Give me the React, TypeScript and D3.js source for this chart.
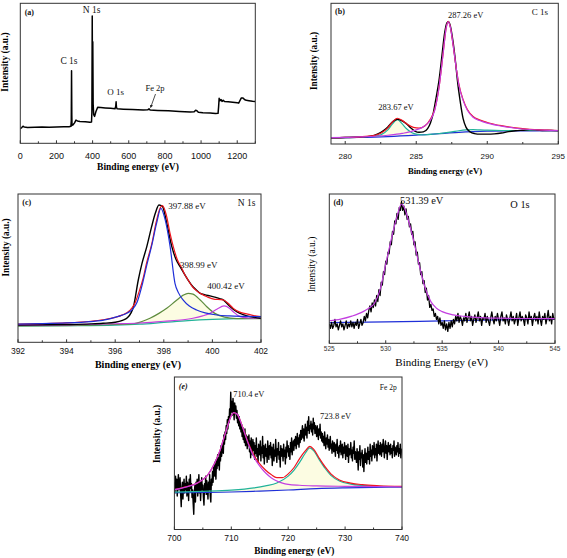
import React from "react";
import * as d3 from "d3";

type Pt = [number, number];

// ---------- (a) survey ----------
const surveyTicks = [0, 200, 400, 600, 800, 1000, 1200];
const surveyMinor = [100, 300, 500, 700, 900, 1100, 1300];
const surveyA: Pt[] = [
  [0, 10.5], [8, 11.2], [15, 12.2], [22, 11.6], [40, 11.3], [80, 11.5], [120, 11.6], [160, 11.5],
  [200, 11.7], [240, 11.8], [270, 11.9], [280, 12.1], [282, 16], [283.5, 51.9], [285, 20], [286, 12.8],
  [292, 13.2], [300, 14.6], [308, 16.6], [316, 16], [330, 15.6], [360, 15.4], [385, 15.0], [394, 15.2],
  [396, 22], [398, 90.9], [399.5, 30], [401, 72.6], [403, 28], [406, 20.5], [411, 19.2], [418, 22.5],
  [428, 25.8], [445, 25.6], [470, 25.3], [500, 25], [524, 24.7], [528, 26.5], [530, 29.7], [532, 25.6],
  [536, 24.6], [570, 24.4], [620, 24.2], [680, 23.8], [705, 23.9], [712, 24.6], [718, 23.8], [760, 23.5],
  [820, 23.2], [880, 22.8], [940, 22.4], [962, 22.5], [970, 23.6], [977, 23.3], [985, 22.2], [1010, 21.8],
  [1050, 21.6], [1080, 21.3], [1094, 21.4], [1097, 26], [1100, 32.1], [1104, 30.4], [1110, 31.3],
  [1116, 29.9], [1122, 30.8], [1130, 29.8], [1150, 29.6], [1175, 29.3], [1200, 28.9], [1208, 28.7],
  [1214, 30.2], [1222, 32.3], [1232, 32.4], [1240, 31.3], [1250, 30.7], [1265, 30.4], [1285, 30], [1300, 29.8],
];

// ---------- (b) C 1s ----------
const c1sTicks = [280, 285, 290, 295];
const c1sMinor = [282.5, 287.5, 292.5];
const c1sData: Pt[] = [
  [279, 4.4], [280, 4.6], [281, 5.0], [281.8, 5.6], [282.3, 7.2], [282.7, 9.5], [283.0, 12], [283.3, 15.5],
  [283.67, 17.6], [284.0, 16.5], [284.3, 14.5], [284.6, 11.5], [284.9, 9.2], [285.2, 8.3], [285.5, 8.6],
  [285.8, 11], [286.0, 15], [286.2, 22], [286.4, 33], [286.6, 45], [286.8, 62], [287.0, 79], [287.15, 86],
  [287.26, 86.9], [287.4, 84], [287.6, 72], [287.8, 55], [287.9, 45], [288.1, 30], [288.3, 18], [288.5, 12],
  [288.8, 8.5], [289.1, 7.4], [289.5, 7.0], [290, 7.0], [290.5, 7.2], [291, 7.8], [291.5, 8.8], [292, 9.4],
  [292.5, 9.8], [293, 10.2], [293.5, 9.9], [294, 9.5], [294.5, 9.6], [295, 9.3],
];
const c1sSum: Pt[] = [
  [279, 4.5], [280, 4.7], [281, 5.1], [282, 6.0], [282.5, 7.6], [283, 11.5], [283.3, 15.3], [283.67, 18.3],
  [284, 16.8], [284.4, 13.8], [284.8, 11.8], [285.2, 11.3], [285.6, 12.8], [286, 17.8], [286.3, 24.5],
  [286.6, 40], [286.9, 65], [287.1, 82], [287.26, 87.1], [287.4, 83], [287.6, 70], [287.8, 55], [288.0, 42.5],
  [288.3, 31.5], [288.6, 24.5], [289, 19.5], [289.5, 17], [290, 15.3], [291, 13], [292, 11.5], [293, 10.5],
  [294, 10], [295, 9.6],
];
const c1sPeak287: Pt[] = [
  [279, 4.5], [281, 5.0], [283, 6.2], [284, 7.5], [285, 10.0], [285.5, 12.3], [286, 17], [286.3, 24],
  [286.6, 40], [286.9, 65], [287.1, 82], [287.26, 86.9], [287.4, 83], [287.6, 70], [287.8, 55], [288.0, 42],
  [288.3, 31], [288.6, 24], [289, 19], [289.5, 16.5], [290, 14.8], [291, 12.7], [292, 11.2], [293, 10.3],
  [294, 9.8], [295, 9.5],
];
const c1sPeak283: Pt[] = [
  [279, 4.4], [281, 5.0], [282, 5.5], [282.5, 6.5], [283, 10], [283.3, 14], [283.67, 17.3], [284, 14.5],
  [284.3, 11], [284.7, 8], [285.1, 6.8], [285.5, 6.4],
];
const c1sBroad: Pt[] = [
  [285.5, 6.4], [286, 6.8], [286.5, 7.3], [287, 7.9], [287.5, 8.6], [288, 9.4], [288.5, 10], [289, 10.2],
  [289.5, 10], [290, 9.8], [291, 9.6], [292, 9.6], [293, 9.6], [294, 9.6], [295, 9.6],
];
const c1sBase: Pt[] = [
  [279, 4.4], [281, 4.7], [283, 5.3], [285, 6.3], [286, 6.9], [287, 7.6], [288, 8.3], [289, 8.8],
  [290, 9.1], [292, 9.3], [295, 9.4],
];

// ---------- (c) N 1s ----------
const n1sTicks = [392, 394, 396, 398, 400, 402];
const n1sMinor = [393, 395, 397, 399, 401];
const n1sData: Pt[] = [
  [392, 11.7], [393, 11.8], [394, 12.0], [395, 12.4], [395.5, 12.8], [396, 13.5], [396.3, 14.8], [396.5, 16.5],
  [396.75, 24], [396.95, 42], [397.1, 53], [397.3, 64.5], [397.5, 78], [397.65, 87], [397.8, 92.6],
  [397.95, 91.5], [398.1, 82], [398.33, 64.5], [398.5, 56], [398.67, 51], [398.85, 46], [399.0, 42],
  [399.2, 37.5], [399.34, 35.3], [399.5, 33], [399.7, 32], [399.9, 31.3], [400.1, 30.5], [400.3, 29.5],
  [400.46, 28.5], [400.7, 24.5], [401.0, 20.6], [401.3, 18.5], [401.55, 17.3], [402, 16.2],
];
const n1sSum: Pt[] = [
  [392, 12.3], [393, 12.6], [394, 13.1], [395, 14.2], [395.5, 15.2], [396, 16.8], [396.3, 18.5], [396.6, 21.5],
  [396.8, 26], [397.0, 35], [397.13, 42], [397.3, 54], [397.5, 66], [397.7, 82], [397.85, 90.5], [397.94, 92.1],
  [398.1, 86], [398.25, 74], [398.39, 64.5], [398.55, 56], [398.74, 50], [398.85, 46], [399.0, 42],
  [399.2, 37], [399.5, 33], [399.8, 30.5], [400.1, 29], [400.35, 28.8], [400.5, 28.2], [400.7, 25.5],
  [400.86, 22.9], [401.1, 20.5], [401.41, 19.2], [401.7, 18], [402, 17.3],
];
const n1sPeak397: Pt[] = [
  [392, 12.3], [393, 12.6], [394, 13.1], [395, 14.0], [395.4, 14.6], [395.8, 16.0], [396.2, 17.8],
  [396.5, 19.8], [396.7, 22], [396.9, 27], [397.13, 40], [397.3, 52], [397.5, 65], [397.7, 80], [397.88, 90.3],
  [398.05, 83], [398.26, 64.5], [398.46, 39.8], [398.6, 33.5], [398.8, 28.5], [399.05, 24.5], [399.35, 21.8],
  [399.7, 19.8], [400.18, 18.4], [400.7, 17.8], [401.3, 17.5], [402, 17.3],
];
const n1sPeak398: Pt[] = [
  [392, 11.0], [394, 11.2], [395, 11.5], [396, 12.0], [396.75, 12.5], [397.1, 14.0], [397.43, 16.2],
  [397.8, 19.5], [398.12, 22.9], [398.5, 28], [398.8, 31.8], [399.0, 33], [399.2, 32.5], [399.5, 28.5],
  [399.77, 24], [400.1, 19.5], [400.5, 17], [401, 16], [401.5, 15.9], [402, 16.0],
];
const n1sPeak400: Pt[] = [
  [392, 11.4], [394, 11.8], [396, 12.5], [397, 13.0], [398, 14.2], [398.8, 15.2], [399.2, 16.2],
  [399.6, 17.8], [399.9, 19.5], [400.2, 22.5], [400.48, 24.5], [400.7, 23], [400.86, 20.6], [401.14, 17.3],
  [401.5, 16.4], [402, 16.2],
];
const n1sBase: Pt[] = [
  [392, 11.0], [394, 11.2], [396, 11.6], [397, 12.2], [398, 13.4], [399, 14.6], [400, 15.4], [401, 15.9], [402, 16.2],
];

// ---------- (d) O 1s ----------
const o1sTicks = [525, 530, 535, 540, 545];
const o1sMinor = [527.5, 532.5, 537.5, 542.5];
const o1sStart = 525;
const o1sStep = 0.1;
const o1sCounts = [
  13, 10, 14, 10, 12, 16, 11, 13, 9, 12,
  15, 11, 13, 9, 12, 15, 10, 13, 11, 15,
  11, 14, 10, 14, 12, 16, 10, 13, 16, 12,
  14, 18, 15, 20, 17, 22, 25, 21, 27, 24,
  29, 25, 32, 28, 36, 32, 41, 39, 48, 46,
  55, 53, 61, 60, 68, 66, 75, 73, 82, 80,
  87, 83, 91, 89, 95, 89, 92, 86, 90, 83,
  85, 78, 80, 73, 75, 66, 68, 59, 61, 53,
  54, 46, 48, 40, 42, 34, 37, 29, 32, 24,
  26, 22, 23, 18, 20, 16, 18, 13, 17, 12,
  14, 10, 15, 9, 13, 8, 14, 10, 15, 11,
  16, 13, 18, 15, 20, 14, 18, 16, 12, 17,
  15, 20, 14, 17, 21, 15, 18, 12, 16, 19,
  14, 17, 21, 15, 18, 12, 17, 16, 20, 14,
  18, 15, 12, 17, 21, 16, 13, 18, 15, 20,
  16, 12, 18, 21, 15, 17, 13, 19, 16, 12,
  17, 21, 15, 18, 13, 16, 20, 12, 17, 21,
  15, 18, 16, 12, 19, 17, 13, 21, 16, 18,
  12, 17, 20, 15, 18, 13, 21, 16, 12, 18,
  16, 20, 13, 17, 22, 15, 18, 13, 20, 16,
  17,
];
const o1sFit: Pt[] = [
  [525, 15.1], [526, 16.2], [527, 18.2], [528, 21.2], [528.5, 23.5], [529, 26.8], [529.5, 36], [530, 53],
  [530.5, 70], [531, 85], [531.39, 93.3], [531.7, 90], [532, 82.6], [532.5, 68], [533, 51.3], [533.5, 37],
  [534, 27.9], [534.5, 23.5], [535, 21.2], [536, 19], [537, 18], [538, 17.4], [540, 16.8], [542, 16.6], [545, 16.5],
];
const o1sBase: Pt[] = [[525, 13.8], [530, 14.3], [535, 15.0], [540, 15.7], [545, 16.1]];

// ---------- (e) Fe 2p ----------
const fe2pTicks = [700, 710, 720, 730, 740];
const fe2pMinor = [705, 715, 725, 735];
const fe2pStart = 700;
const fe2pStep = 0.1;
const fe2pCounts = [
  31, 24, 35, 27, 33, 22, 30, 36, 26, 29,
  34, 23, 15, 27, 31, 20, 28, 33, 24, 30,
  26, 35, 22, 31, 28, 19, 33, 25, 36, 27,
  30, 21, 26, 17, 10, 24, 29, 18, 31, 25,
  33, 22, 28, 36, 24, 31, 19, 27, 34, 26,
  29, 21, 16, 30, 25, 35, 23, 32, 27, 20,
  31, 26, 36, 22, 18, 33, 29, 38, 31, 41,
  35, 44, 38, 33, 46, 40, 49, 42, 47, 39,
  51, 45, 55, 48, 53, 58, 50, 62, 56, 64,
  59, 68, 63, 72, 66, 74, 70, 79, 73, 90,
  77, 84, 75, 86, 79, 72, 83, 76, 81, 73,
  78, 70, 75, 68, 74, 66, 71, 64, 69, 61,
  67, 59, 64, 57, 66, 55, 62, 58, 53, 61,
  55, 62, 51, 58, 47, 60, 54, 49, 59, 52,
  57, 46, 55, 50, 60, 48, 53, 44, 56, 51,
  49, 58, 45, 54, 50, 61, 47, 55, 43, 52,
  56, 48, 53, 44, 58, 50, 46, 55, 49, 57,
  47, 54, 42, 51, 56, 45, 52, 48, 59, 50,
  44, 53, 49, 57, 46, 51, 41, 55, 48, 53,
  50, 45, 56, 48, 52, 43, 54, 47, 58, 51,
  55, 48, 53, 46, 57, 51, 60, 49, 54, 58,
  52, 59, 55, 61, 53, 57, 63, 56, 60, 54,
  62, 57, 65, 59, 63, 68, 60, 66, 58, 64,
  69, 62, 67, 60, 71, 65, 74, 63, 68, 66,
  71, 64, 69, 62, 73, 66, 70, 63, 68, 65,
  61, 68, 64, 59, 66, 62, 69, 60, 64, 58,
  63, 57, 61, 55, 64, 58, 53, 60, 56, 62,
  54, 59, 52, 57, 61, 53, 56, 50, 58, 55,
  51, 57, 53, 48, 56, 52, 59, 50, 54, 47,
  55, 51, 58, 49, 53, 56, 47, 54, 50, 57,
  52, 46, 55, 50, 48, 56, 44, 53, 49, 51,
  57, 47, 52, 45, 54, 50, 58, 46, 51, 49,
  44, 53, 48, 39, 51, 46, 55, 42, 50, 47,
  52, 41, 49, 38, 47, 53, 44, 50, 43, 48,
  54, 46, 51, 43, 56, 48, 52, 45, 55, 49,
  51, 57, 47, 53, 49, 56, 45, 52, 58, 50,
  55, 49, 57, 52, 48, 56, 51, 59, 53, 47,
  54, 58, 50, 55, 46, 53, 57, 51, 55, 49,
  56, 50, 53, 47, 55, 52, 58, 48, 54, 51,
  49, 55, 51, 57, 48, 53, 50, 56, 47, 52,
  53,
];
const fe2pSum: Pt[] = [
  [700, 26.2], [702, 28], [704, 30.4], [706, 36.5], [707, 43], [708, 51.7], [709, 63.7], [710, 74.6],
  [710.4, 76.7], [711, 75.7], [712, 67], [713, 56.5], [714, 48.5], [715, 43], [716, 39], [717, 36], [718, 34],
  [719, 34], [720, 36.5], [721, 40.5], [722, 46.5], [723, 51.5], [723.8, 54.5], [724.5, 52.5], [725.5, 46.5],
  [726.5, 41], [727.5, 36.5], [729, 32.5], [731, 30.4], [733, 29.4], [736, 28.7], [740, 28.3],
];
const fe2pPeak710: Pt[] = [
  [700, 26.1], [702, 27.8], [704, 30.4], [706, 36.5], [707, 43], [708, 51.7], [709, 63.7], [710, 74.6],
  [710.4, 76.7], [711, 75.7], [712, 66.9], [713, 56.1], [714, 47.4], [715, 41.5], [716, 37.2], [717, 34],
  [718, 31.8], [719, 30.4], [720, 29.6], [722, 29], [725, 28.6], [730, 28.3], [740, 28],
];
const fe2pPeak723: Pt[] = [
  [700, 24.5], [705, 25.0], [710, 25.8], [714, 27.3], [716, 28.6], [718, 30.5], [720, 35], [721, 38.8],
  [722, 44], [723, 50], [723.8, 53.5], [724.5, 51.5], [725.5, 45.5], [726.5, 40], [727.5, 35.5], [729, 31.8],
  [731, 29.8], [733, 28.9], [736, 28.3], [740, 28.1],
];
const fe2pBase: Pt[] = [[700, 24.1], [710, 24.6], [715, 25.2], [720, 25.9], [725, 26.8], [730, 27.3], [740, 27.8]];

const expand = (start: number, step: number, vals: number[]): Pt[] =>
  vals.map((v, i) => [start + i * step, v] as Pt);

const SERIF = "'Liberation Serif','Times New Roman',serif";
const SANS = "'Liberation Sans',Arial,sans-serif";

type Series = { data: Pt[]; color: string; width?: number; smooth?: boolean };
type Fill = { top: Pt[]; base: Pt[]; color: string };
type Label = { text: string; x: number; y: number; size: number; bold?: boolean; anchor?: string; italic?: boolean };

type PanelProps = {
  id: string;
  left: number; right: number; top: number; bottom: number;
  xDomain: [number, number];
  ticks: number[]; minor: number[];
  tickSize: number; tickY: number; tickColor?: string;
  xTitle: string; xTitleX: number; xTitleY: number; xTitleSize: number; xTitleBold: boolean;
  yTitleX: number; yTitleY: number; yTitleSize: number; yTitleBold: boolean;
  series: Series[]; fills?: Fill[]; labels: Label[];
  arrow?: { from: Pt; to: Pt };
};

function Panel(p: PanelProps) {
  const x = d3.scaleLinear().domain(p.xDomain).range([p.left, p.right]);
  const y = d3.scaleLinear().domain([0, 100]).range([p.bottom, p.top]);
  const smoothLine = d3.line<Pt>().x(d => x(d[0])).y(d => y(d[1])).curve(d3.curveMonotoneX);
  const rawLine = d3.line<Pt>().x(d => x(d[0])).y(d => y(d[1]));
  const clipId = `clip-${p.id}`;
  return (
    <g>
      <defs>
        <clipPath id={clipId}>
          <rect x={p.left} y={p.top} width={p.right - p.left} height={p.bottom - p.top} />
        </clipPath>
      </defs>
      <g clipPath={`url(#${clipId})`}>
        {(p.fills || []).map((f, i) => {
          const topPath = smoothLine(f.top) || "";
          const basePts = [...f.base].reverse();
          const basePath = rawLine(basePts) || "";
          return <path key={i} d={topPath + "L" + basePath.slice(1) + "Z"} fill={f.color} stroke="none" />;
        })}
        {p.series.map((s, i) => (
          <path key={i} d={(s.smooth === false ? rawLine(s.data) : smoothLine(s.data)) || ""}
            fill="none" stroke={s.color} strokeWidth={s.width ?? 1.2} strokeLinejoin="round" />
        ))}
      </g>
      <rect x={p.left} y={p.top} width={p.right - p.left} height={p.bottom - p.top}
        fill="none" stroke="#333" strokeWidth={1} />
      {p.ticks.map(t => (
        <g key={t}>
          <line x1={x(t)} x2={x(t)} y1={p.bottom} y2={p.bottom - 3} stroke="#333" strokeWidth={1} />
          <text x={x(t)} y={p.tickY} fontFamily={SANS} fontSize={p.tickSize} textAnchor="middle"
            dominantBaseline="middle" fill={p.tickColor || "#111"}>{t}</text>
        </g>
      ))}
      {p.minor.map(t => (
        <line key={t} x1={x(t)} x2={x(t)} y1={p.bottom} y2={p.bottom - 2} stroke="#333" strokeWidth={1} />
      ))}
      <text x={p.xTitleX} y={p.xTitleY} fontFamily={SERIF} fontSize={p.xTitleSize}
        fontWeight={p.xTitleBold ? "bold" : "normal"} textAnchor="middle" dominantBaseline="middle">{p.xTitle}</text>
      <text transform={`translate(${p.yTitleX},${p.yTitleY}) rotate(-90)`} fontFamily={SERIF}
        fontSize={p.yTitleSize} fontWeight={p.yTitleBold ? "bold" : "normal"} textAnchor="middle"
        dominantBaseline="middle">Intensity (a.u.)</text>
      {p.labels.map((l, i) => (
        <text key={i} x={l.x} y={l.y} fontFamily={SERIF} fontSize={l.size} fontWeight={l.bold ? "bold" : "normal"}
          fontStyle={l.italic ? "italic" : "normal"} textAnchor={(l.anchor as any) || "middle"}
          dominantBaseline="middle" fill="#111">{l.text}</text>
      ))}
      {p.arrow && (
        <g>
          <line x1={x(p.arrow.from[0])} y1={y(p.arrow.from[1])} x2={x(p.arrow.to[0])} y2={y(p.arrow.to[1])}
            stroke="#222" strokeWidth={0.8} markerEnd="url(#arrowHead)" />
        </g>
      )}
    </g>
  );
}

const BLACK = "#000";
const RED = "#f0141e";
const MAGENTA = "#c33ee0";
const BLUE = "#1f2fd8";
const TEAL = "#22b39a";
const OLIVE = "#5e8c3e";
const PALE = "#fcfce2";

export default function App() {
  return (
    <svg width={567} height={558} viewBox="0 0 567 558"
      style={{ position: "absolute", left: 0, top: 0, background: "#fff" }}>
      <defs>
        <marker id="arrowHead" viewBox="0 0 6 6" refX="5" refY="3" markerWidth="4" markerHeight="4" orient="auto">
          <path d="M0,0 L6,3 L0,6 Z" fill="#222" />
        </marker>
      </defs>
      <rect x={0} y={0} width={567} height={558} fill="#fff" />

      <Panel id="a" left={20.3} right={255.3} top={3.3} bottom={143.3} xDomain={[0, 1300]}
        ticks={surveyTicks} minor={surveyMinor} tickSize={9} tickY={157}
        xTitle="Binding energy (eV)" xTitleX={138} xTitleY={168} xTitleSize={9.5} xTitleBold
        yTitleX={5.5} yTitleY={62} yTitleSize={9.5} yTitleBold
        series={[{ data: surveyA, color: BLACK, width: 1.5, smooth: false }]}
        labels={[
          { text: "(a)", x: 29.3, y: 12.7, size: 8, bold: true },
          { text: "N 1s", x: 91.7, y: 10.7, size: 9.5 },
          { text: "C 1s", x: 69, y: 62.3, size: 9.5 },
          { text: "O 1s", x: 115.7, y: 92.7, size: 9 },
          { text: "Fe 2p", x: 155, y: 89, size: 8.5 },
        ]}
        arrow={{ from: [748, 35.2], to: [721, 25.6] }}
      />

      <Panel id="b" left={331} right={558.3} top={3.3} bottom={144} xDomain={[279, 295]}
        ticks={c1sTicks} minor={c1sMinor} tickSize={8} tickY={156.7}
        xTitle="Binding energy (eV)" xTitleX={445} xTitleY={171.7} xTitleSize={8.6} xTitleBold
        yTitleX={315} yTitleY={61} yTitleSize={9.3} yTitleBold
        fills={[{ top: c1sPeak283, base: c1sBase, color: PALE }]}
        series={[
          { data: c1sBase, color: BLUE },
          { data: c1sBroad, color: TEAL },
          { data: c1sPeak283, color: TEAL },
          { data: c1sData, color: BLACK, width: 1.4 },
          { data: c1sSum, color: RED },
          { data: c1sPeak287, color: MAGENTA },
        ]}
        labels={[
          { text: "(b)", x: 340, y: 11.7, size: 8, bold: true },
          { text: "C 1s", x: 540, y: 12.7, size: 9 },
          { text: "287.26 eV", x: 465.7, y: 16.2, size: 8.5 },
          { text: "283.67 eV", x: 396, y: 108.5, size: 8.5 },
        ]}
      />

      <Panel id="c" left={18} right={261} top={194} bottom={342.3} xDomain={[392, 402]}
        ticks={n1sTicks} minor={n1sMinor} tickSize={8.5} tickY={351.7}
        xTitle="Binding energy (eV)" xTitleX={138} xTitleY={366} xTitleSize={10} xTitleBold
        yTitleX={6.7} yTitleY={247.5} yTitleSize={9.3} yTitleBold
        fills={[{ top: n1sPeak398, base: n1sBase, color: PALE }]}
        series={[
          { data: n1sBase, color: TEAL },
          { data: n1sPeak398, color: OLIVE },
          { data: n1sPeak400, color: MAGENTA },
          { data: n1sData, color: BLACK, width: 1.4 },
          { data: n1sSum, color: RED },
          { data: n1sPeak397, color: BLUE },
        ]}
        labels={[
          { text: "(c)", x: 26.7, y: 203.3, size: 8, bold: true },
          { text: "N 1s", x: 246.7, y: 204, size: 9.5 },
          { text: "397.88 eV", x: 168.3, y: 206.7, size: 9, anchor: "start" },
          { text: "398.99 eV", x: 180, y: 265.5, size: 9, anchor: "start" },
          { text: "400.42 eV", x: 207.3, y: 286.7, size: 9, anchor: "start" },
        ]}
      />

      <Panel id="d" left={329.3} right={555} top={194} bottom={343.3} xDomain={[525, 545]}
        ticks={o1sTicks} minor={o1sMinor} tickSize={6.5} tickY={349.5} tickColor="#333"
        xTitle="Binding Energy (eV)" xTitleX={441.7} xTitleY={363.3} xTitleSize={11} xTitleBold={false}
        yTitleX={313.3} yTitleY={264.5} yTitleSize={9.5} yTitleBold={false}
        series={[
          { data: o1sBase, color: BLUE },
          { data: expand(o1sStart, o1sStep, o1sCounts), color: BLACK, width: 1.3, smooth: false },
          { data: o1sFit, color: MAGENTA },
        ]}
        labels={[
          { text: "(d)", x: 338.3, y: 202.7, size: 8, bold: true },
          { text: "531.39 eV", x: 421.7, y: 201.7, size: 10.4 },
          { text: "O 1s", x: 520, y: 206, size: 10.4 },
        ]}
      />

      <Panel id="e" left={174.4} right={402} top={377} bottom={529.5} xDomain={[700, 740]}
        ticks={fe2pTicks} minor={fe2pMinor} tickSize={8.5} tickY={538.3}
        xTitle="Binding energy (eV)" xTitleX={294.3} xTitleY={551.7} xTitleSize={9.3} xTitleBold
        yTitleX={158.3} yTitleY={434} yTitleSize={9.3} yTitleBold
        fills={[{ top: fe2pPeak723, base: fe2pBase, color: PALE }]}
        series={[
          { data: expand(fe2pStart, fe2pStep, fe2pCounts), color: BLACK, width: 1.4, smooth: false },
          { data: fe2pBase, color: BLUE },
          { data: fe2pPeak723, color: TEAL },
          { data: fe2pSum, color: RED },
          { data: fe2pPeak710, color: MAGENTA },
        ]}
        labels={[
          { text: "(e)", x: 183.3, y: 386.7, size: 8, bold: true, italic: true },
          { text: "Fe 2p", x: 388.3, y: 388.3, size: 7.5 },
          { text: "710.4 eV", x: 233.3, y: 395, size: 8.5, anchor: "start" },
          { text: "723.8 eV", x: 320, y: 417.3, size: 8.5, anchor: "start" },
        ]}
      />
    </svg>
  );
}
